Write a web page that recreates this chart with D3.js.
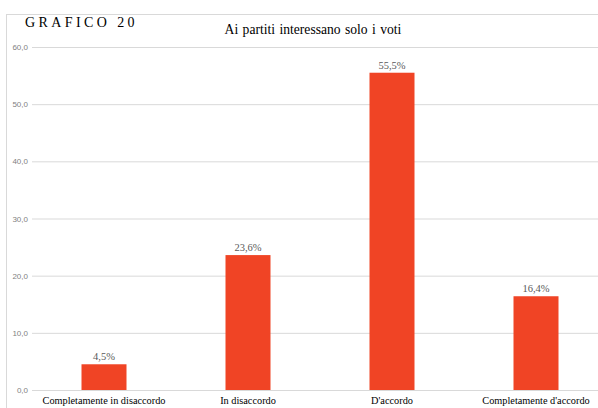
<!DOCTYPE html>
<html>
<head>
<meta charset="utf-8">
<script src="https://cdn.jsdelivr.net/npm/d3@7"></script>
<style>
  html, body { margin: 0; padding: 0; background: #fff; }
  svg { display: block; }
</style>
</head>
<body>
<svg id="chart" width="598" height="408"></svg>
<script>
// Risposte alla domanda "Ai partiti interessano solo i voti" (percentuali)
const categories = ["Completamente in disaccordo", "In disaccordo", "D'accordo", "Completamente d'accordo"];
const values = [4.5, 23.6, 55.5, 16.4];
const yTicks = [0, 10, 20, 30, 40, 50, 60];

const svg = d3.select("#chart");
const W = 598, H = 408;
const fmt = v => d3.format(".1f")(v).replace(".", ",");

// Cornice del riquadro
svg.append("line").attr("x1", 6).attr("x2", W).attr("y1", 14.5).attr("y2", 14.5)
  .attr("stroke", "#d9d9d9").attr("stroke-width", 1);
svg.append("line").attr("x1", 6.5).attr("x2", 6.5).attr("y1", 14).attr("y2", H)
  .attr("stroke", "#d9d9d9").attr("stroke-width", 1);

const x = d3.scaleBand().domain(categories).range([32, 608]).paddingInner(0.6875).paddingOuter(0.34375);
const y = d3.scaleLinear().domain([0, 60]).range([390, 47]);

// Griglia e asse Y
const yAxis = svg.append("g").attr("transform", "translate(32,0)")
  .call(d3.axisLeft(y).tickValues(yTicks).tickFormat(fmt).tickSize(-(W - 32)).tickPadding(4));
yAxis.select(".domain").remove();
yAxis.selectAll(".tick line").attr("stroke", "#d9d9d9");
yAxis.selectAll(".tick text").attr("fill", "#7f7f7f")
  .attr("font-family", "Liberation Sans, Arial, sans-serif").attr("font-size", 8);

// Barre
svg.append("g").selectAll("rect").data(values).join("rect")
  .attr("x", (d, i) => x(categories[i]))
  .attr("width", x.bandwidth())
  .attr("y", d => y(d))
  .attr("height", d => y(0) - y(d))
  .attr("fill", "#F04425");

// Etichette dei valori
svg.append("g").selectAll("text").data(values).join("text")
  .attr("x", (d, i) => x(categories[i]) + x.bandwidth() / 2)
  .attr("y", d => y(d) - 4)
  .attr("text-anchor", "middle")
  .attr("fill", "#595959")
  .attr("font-family", "Liberation Serif, Times New Roman, serif")
  .attr("font-size", 10.5)
  .text(d => fmt(d) + "%");

// Etichette delle categorie
const xAxis = svg.append("g").attr("transform", "translate(0,390)")
  .call(d3.axisBottom(x).tickSize(0).tickPadding(7));
xAxis.select(".domain").remove();
xAxis.selectAll(".tick text").attr("fill", "#000")
  .attr("font-family", "Liberation Serif, Times New Roman, serif")
  .attr("font-size", 10.3);

// Titoli
svg.append("text").attr("x", 25).attr("y", 27)
  .attr("font-family", "Liberation Serif, Times New Roman, serif")
  .attr("font-size", 14).attr("letter-spacing", 3.4).attr("fill", "#000")
  .text("GRAFICO 20");
svg.append("text").attr("x", 313).attr("y", 34).attr("text-anchor", "middle")
  .attr("font-family", "Liberation Serif, Times New Roman, serif")
  .attr("font-size", 13.6).attr("word-spacing", 1).attr("fill", "#000")
  .text("Ai partiti interessano solo i voti");
</script>
</body>
</html>
